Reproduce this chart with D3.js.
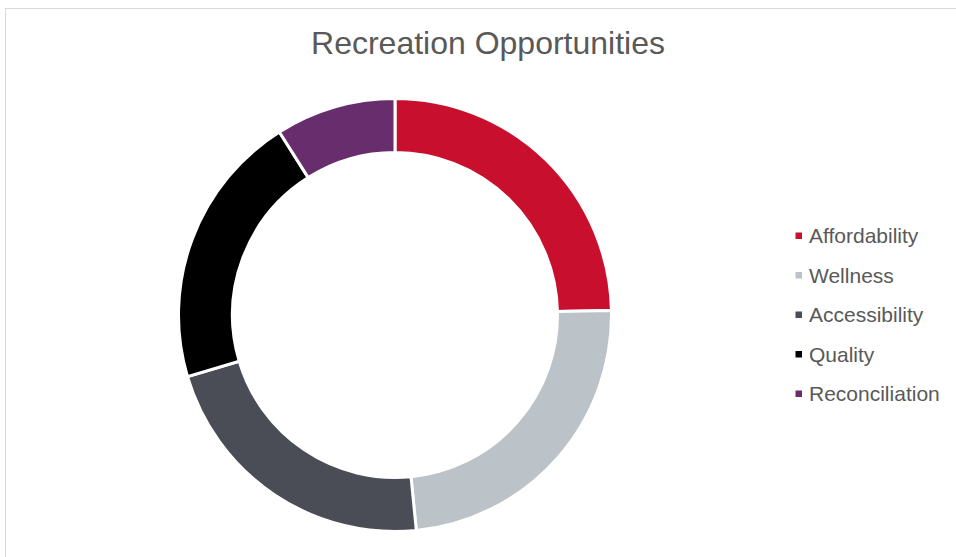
<!DOCTYPE html>
<html>
<head>
<meta charset="utf-8">
<script src="https://cdn.jsdelivr.net/npm/d3@7/dist/d3.min.js"></script>
<style>
  html, body { margin: 0; padding: 0; background: #fff; }
  svg { display: block; font-family: "Liberation Sans", Arial, sans-serif; }
</style>
</head>
<body>
<svg id="chart" width="956" height="557"></svg>
<script>
// Survey responses by theme
const categories = ["Affordability", "Wellness", "Accessibility", "Quality", "Reconciliation"];
const values = [55, 53, 49, 46, 20];
const colors = ["#C8102E", "#BBC2C8", "#4A4D55", "#000000", "#672D6D"];
const title = "Recreation Opportunities";

const svg = d3.select("#chart");
const W = 956, H = 557;

// chart area frame
svg.append("rect")
  .attr("x", 5.5).attr("y", 8.5)
  .attr("width", W + 20).attr("height", H + 20)
  .attr("fill", "#fff")
  .attr("stroke", "#D9D9D9")
  .attr("stroke-width", 1);

svg.append("text")
  .attr("x", 488).attr("y", 54)
  .attr("text-anchor", "middle")
  .attr("font-size", 32)
  .attr("fill", "#595959")
  .text(title);

const cx = 395, cy = 315, outerR = 216.5, innerR = 162.5;

const pie = d3.pie().sort(null).value(d => d.value);
const arc = d3.arc().innerRadius(innerR).outerRadius(outerR);
const data = categories.map((c, i) => ({ name: c, value: values[i], color: colors[i] }));

svg.append("g")
  .attr("transform", `translate(${cx},${cy})`)
  .selectAll("path")
  .data(pie(data))
  .join("path")
  .attr("d", arc)
  .attr("fill", d => d.data.color)
  .attr("stroke", "#fff")
  .attr("stroke-width", 3)
  .attr("stroke-linejoin", "miter");

// legend
const legendY = d3.scalePoint().domain(categories).range([243, 401]);
const legend = svg.append("g");
const rows = legend.selectAll("g")
  .data(data)
  .join("g")
  .attr("transform", d => `translate(0,${legendY(d.name)})`);

rows.append("rect")
  .attr("x", 795.5).attr("y", -10.5)
  .attr("width", 6.5).attr("height", 6.5)
  .attr("fill", d => d.color);

rows.append("text")
  .attr("x", 809).attr("y", 0)
  .attr("font-size", 21)
  .attr("fill", "#595959")
  .text(d => d.name);
</script>
</body>
</html>
